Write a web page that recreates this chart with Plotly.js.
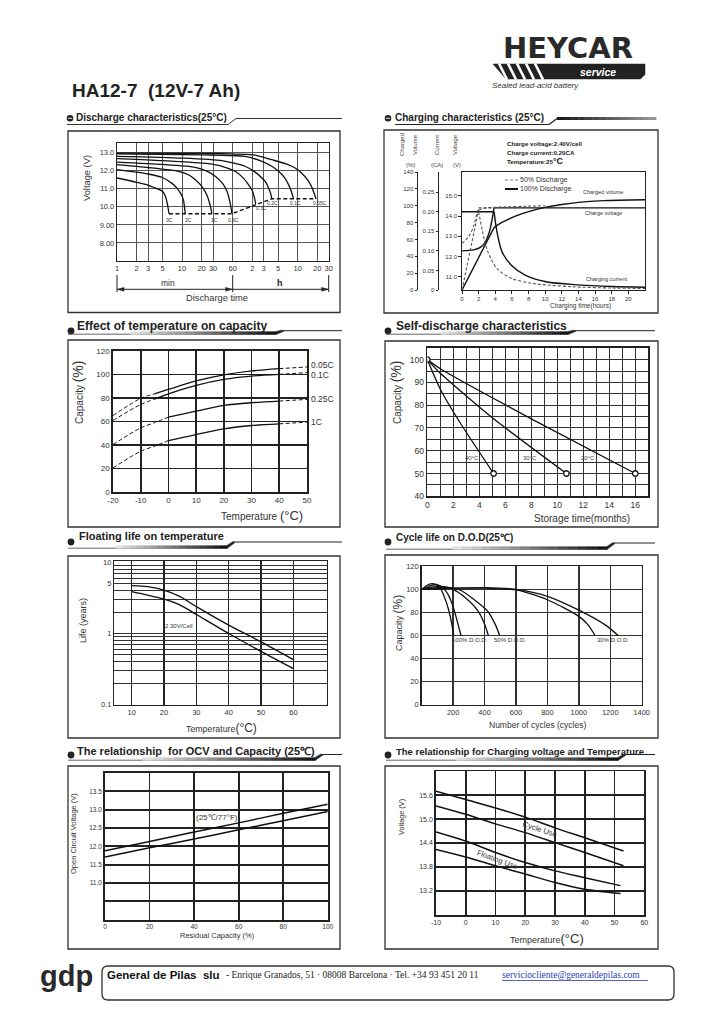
<!DOCTYPE html>
<html><head><meta charset="utf-8">
<script src="https://cdn.plot.ly/plotly-3.0.1.min.js"></script>
<style>html,body{margin:0;padding:0;background:#fff;}#chart{width:725px;height:1024px;}</style>
</head><body><div id="chart"></div>
<script>
// ================= DATA =================
// 1. Discharge characteristics (time in minutes, voltage V)
const dis3C_t=[1,2,3,4,5,5.6,6.0,6.3];
const dis3C_v=[11.6,11.36,11.2,11.02,10.86,10.55,10.1,9.62];
const dis2C_t=[1,2,3,4.9,7,8.35,10,10.6,11.2];
const dis2C_v=[12.06,11.92,11.82,11.64,11.3,11.04,10.6,10.31,9.62];
const dis1C_t=[1,3,8.9,13,16,20,24,27,28.8];
const dis1C_v=[12.34,12.18,11.97,11.75,11.5,11.15,10.67,10.1,9.62];
const dis06C_t=[1,5,16,25,32.4,42,49,55,58.5];
const dis06C_v=[12.48,12.35,12.19,11.95,11.69,11.3,10.86,10.2,9.62];
const dis03C_t=[1,10,28.8,50,65.6,90,105,120,130,136];
const dis03C_v=[12.67,12.5,12.37,12.15,11.97,11.55,11.23,10.9,10.5,10.15];
const dis02C_t=[1,10,41,93,130,169,195,214,230,240];
const dis02C_v=[12.8,12.7,12.56,12.25,11.95,11.6,11.35,11.04,10.75,10.45];
const dis01C_t=[1,20,93,169,240,305,380,434,480,518];
const dis01C_v=[12.94,12.88,12.8,12.52,12.25,11.97,11.6,11.23,10.85,10.45];
const dis005C_t=[1,30,133,240,400,548,700,880,1000,1100,1150];
const dis005C_v=[12.98,12.96,12.86,12.61,12.38,12.15,11.85,11.42,11.05,10.65,10.45];
const cutoff_t=[6.3,58.5,240,1150];
const cutoff_v=[9.62,9.62,10.45,10.45];
const disTickVals=[1,2,3,5,10,20,30,60,120,180,300,600,1200,1800];
const disTickText=['1','2','3','5','10','20','30','60','2','3','5','10','20','30'];
const disVTicks=[8,9,10,11,12,13];
const disVText=['8.00','9.00','10.0','11.0','12.0','13.0'];

// 2. Charging characteristics (hours)
const chgV100_t=[0,1.4,2.2,2.7,3.3,3.6,3.85,22];
const chgV100_v=[12.28,12.33,12.45,12.65,13.23,13.8,14.4,14.4];
const chgV50_t=[0,0.8,1.4,1.8,2.0,4.0];
const chgV50_v=[12.65,12.98,13.5,14.15,14.4,14.4];
const chgI100_t=[0,3.85,4.2,4.8,5.9,7.6,10.1,14,18,22];
const chgI100_a=[0.2,0.2,0.149,0.098,0.064,0.038,0.021,0.013,0.009,0.007];
const chgI50_t=[0,2.0,2.47,3.1,4.2,5.9,8.4,13.1,18,22];
const chgI50_a=[0.2,0.2,0.149,0.098,0.055,0.03,0.017,0.0085,0.005,0.004];
const chgC100_t=[0,3.85,4.6,5.6,6.5,8,10,12,14,17,22];
const chgC100_p=[0,74,79,84,88,93,98,101.5,104,106,107];
const chgC50_t=[0,1,2,3,5,8,10];
const chgC50_p=[0,48,95,97.5,98.5,99.5,100];
const chgTimeTicks=[0,2,4,6,8,10,12,14,16,18,20];
const chgVTicks=[11,12,13,14,15];
const chgVText=['11.0','12.0','13.0','14.0','15.0'];
const chgATicks=[0,0.05,0.1,0.15,0.2,0.25];
const chgAText=['0','0.05','0.10','0.15','0.20','0.25'];
const chgPTicks=[0,20,40,60,80,100,120,140];

// 3. Effect of temperature on capacity
const tempC=[-20,-10,-5,0,10,20,30,40,50];
const cap005=[65.1,79.7,83.5,87.3,94.5,99.6,103,105,106.4];
const cap01=[60.9,74.5,79,83.6,90.8,95.9,98.7,100.1,101.6];
const cap025=[40.4,54.6,59,63.7,68.8,73.7,76,77.4,78.8];
const cap1=[20.5,34.7,39,43.8,48.9,53.8,56.6,58,59.5];
const tempTicks=[-20,-10,0,10,20,30,40,50];
const tempTickText=['-20','-10','0','10','20','30','40','50'];

// 4. Self-discharge (months, %)
const sd40_t=[0,1,2.5,5.1];   const sd40_c=[100,87,72.5,50];
const sd30_t=[0,1,5,10.7];    const sd30_c=[100,94,74.5,50];
const sd20_t=[0,1,8,16];      const sd20_c=[100,96,74,50];
const sdMark_t=[0,5.1,10.7,16]; const sdMark_c=[100,50,50,50];

// 5. Floating life on temperature
const flTemp=[10,15,20,25,30,40,50,60];
const flUpper=[4.7,4.55,4.07,3.29,2.38,1.31,0.764,0.43];
const flLower=[3.87,3.46,3.04,2.51,1.85,1.0,0.56,0.32];

// 6. Cycle life on D.O.D
const cyc100a_n=[0,40,70,110,140,170,190,204]; const cyc100a_c=[100,104,105,103,95,83,71,60];
const cyc100b_n=[0,50,90,130,170,200,225,250]; const cyc100b_c=[100,103,104,102,95,85,73,60];
const cyc50a_n=[0,60,130,200,280,360,400,424];  const cyc50a_c=[100,102,102.5,100,92.5,81,70,60];
const cyc50b_n=[0,100,180,250,320,420,470,496]; const cyc50b_c=[100,101.5,101.5,99,92.5,81,69,60];
const cyc30a_n=[0,200,400,600,800,1000,1060,1103]; const cyc30a_c=[100,101,101,99.5,91,76.6,69,60];
const cyc30b_n=[0,200,400,600,800,1000,1170,1250]; const cyc30b_c=[100,101,101.5,100,94,82,69,60];

// 7. OCV vs capacity
const ocvCap=[0,20,40,60,80,100];
const ocvUpper=[11.88,12.13,12.39,12.64,12.9,13.15];
const ocvLower=[11.71,11.96,12.2,12.45,12.7,12.95];

// 8. Charging voltage vs temperature
const cvTemp=[-10,0,10,20,30,40,53];
const cycUseUp=[15.7,15.49,15.28,15.05,14.78,14.53,14.2];
const cycUseLo=[15.33,15.12,14.88,14.66,14.41,14.16,13.83];
const fltTemp=[-10,0,10,20,30,40,52];
const fltUseUp=[14.68,14.45,14.16,13.91,13.7,13.53,13.33];
const fltUseLo=[14.24,14.05,13.83,13.62,13.41,13.24,13.13];

// ================= HELPERS =================
const W=725,H=1024;
const F='Liberation Sans, Arial, Helvetica, sans-serif';
const FS='Liberation Serif, Times New Roman, serif';
const X=p=>p/W, Y=p=>1-p/H;
const dom=(a,b)=>[X(a),X(b)];
const domY=(top,bot)=>[Y(bot),Y(top)];

function ln(x,y,xa,ya,o){
  return {type:'scatter',mode:'lines',x:x,y:y,xaxis:xa,yaxis:ya,hoverinfo:'skip',
    line:Object.assign({color:'#111',width:1.4,shape:'spline',smoothing:0.8},o||{})};
}
function axis(o){
  return Object.assign({showline:true,linecolor:'#222',linewidth:1.2,mirror:true,ticks:'',
    showgrid:true,gridcolor:'#333',gridwidth:1,zeroline:false,fixedrange:true,automargin:false,
    tickmode:'array',tickfont:{family:F,size:7.5,color:'#333'}},o);
}
const ann=[];
function A(text,x,y,size,o){
  o=o||{};
  ann.push({xref:'paper',yref:'paper',x:X(x),y:Y(y),text:text,showarrow:false,
    xanchor:o.xa||'center',yanchor:'middle',textangle:o.ang||0,borderpad:0,
    font:{family:o.fam||F,size:size,color:o.col||'#222'}});
}
const shapes=[];
function line(x0,y0,x1,y1,c,w,d){shapes.push({type:'line',xref:'paper',yref:'paper',x0:X(x0),y0:Y(y0),x1:X(x1),y1:Y(y1),line:{color:c||'#222',width:w||1,dash:d||'solid'}});}
function rect(x0,y0,x1,y1,fill,c,w){shapes.push({type:'rect',xref:'paper',yref:'paper',x0:X(x0),y0:Y(y1),x1:X(x1),y1:Y(y0),fillcolor:fill||'rgba(0,0,0,0)',line:{color:c||'#222',width:(w===undefined?1:w)}});}
function poly(pts,fill){shapes.push({type:'path',xref:'paper',yref:'paper',path:'M'+pts.map(p=>X(p[0]).toFixed(5)+','+Y(p[1]).toFixed(5)).join('L')+'Z',fillcolor:fill,line:{color:fill,width:0.5}});}
function circ(cx,cy,r,fill){shapes.push({type:'circle',xref:'paper',yref:'paper',x0:X(cx-r),x1:X(cx+r),y0:Y(cy+r),y1:Y(cy-r),fillcolor:fill,line:{width:0}});}
function grad(x0,x1,yc,h,g0,g1,n){
  for(let i=0;i<n;i++){
    const a=x0+(x1-x0)*i/n,b=x0+(x1-x0)*(i+1)/n;
    const g=Math.round(g0+(g1-g0)*i/(n-1));
    shapes.push({type:'rect',xref:'paper',yref:'paper',x0:X(a),x1:X(b+0.4),y0:Y(yc+h/2),y1:Y(yc-h/2),fillcolor:'rgb('+g+','+g+','+g+')',line:{width:0}});
  }
}
function hdr(bx,by,x0,xe,yb,yt,xr){
  circ(bx,by,3.4,'#222');
  line(x0,yb+1.2,xe,yb+1.2,'#666',1);
  grad(x0+(xe-x0)*0.3,xe,yb,3.2,225,20,16);
  poly([[xe,yb+1.6],[xe,yb-1.6],[xe+6,yt-0.6],[xe+8,yt+0.6]],'#222');
  line(xe+7,yt,xr,yt,'#222',1);
}

// ================= PAGE DECOR =================
A('<b>HA12-7\u00a0 (12V-7 Ah)</b>',71,90,19,{xa:'left'});
A('<b>HEYCAR</b>',568,48,29,{fam:'DejaVu Sans, '+F,col:'#2a2a2a'});
poly([[493,64],[645,64],[645,74.5],[640.5,79],[506,79]],'#222');
for(let k=0;k<5;k++){ line(499+k*9,63.5,507+k*9,79.5,'#fff',2.6); }
A('<b><i>service</i></b>',598,72,10.5,{col:'#fff'});
A('<i>Sealed lead-acid battery</i>',491,85.5,8,{xa:'left',col:'#333'});

// panel boxes
rect(68,131,340,312.5,null,'#333',1.3);
rect(384,130,658,313,null,'#333',1.3);
rect(68,340,340,527,null,'#333',1.3);
rect(385,341,658,527,null,'#333',1.3);
rect(68,556,340,738,null,'#333',1.3);
rect(385,555,658,738,null,'#333',1.3);
rect(68,766,340,949,null,'#333',1.3);
rect(385,766,658,949,null,'#333',1.3);

// panel headers
circ(70,118.3,3.3,'#222'); line(67.8,118.3,72.2,118.3,'#fff',0.9);
line(67,124.5,228,124.5,'#333',1); line(228,124.5,236,118.5,'#333',1); line(236,118.5,342,118.5,'#333',1);
A('<b>Discharge characteristics(25°C)</b>',75,117.5,10,{xa:'left'});

circ(388,118.3,3.3,'#222'); line(385.8,118.3,390.2,118.3,'#fff',0.9);
line(395,124.5,549,124.5,'#222',1); line(549,124.5,557,118.5,'#222',1.3);
grad(557,656,118.5,3,25,150,14);
A('<b>Charging characteristics (25°C)</b>',394,117.5,10,{xa:'left'});

hdr(71,331,68,276,333,330.7,342);
A('<b>Effect of temperature on capacity</b>',76,326,12,{xa:'left'});
hdr(388,331,386,568,333,330.7,655);
A('<b>Self-discharge characteristics</b>',395,326,12,{xa:'left'});
hdr(71,542,68,227,547,542,342);
A('<b>Floating life on temperature</b>',78,536,11,{xa:'left'});
hdr(388,542,386,607,548,543,655);
A('<b>Cycle life on D.O.D(25℃)</b>',395,537,10,{xa:'left'});
hdr(71,755,68,315,759,754.5,342);
A('<b>The relationship\u00a0 for OCV and Capacity (25℃)</b>',76,751,11,{xa:'left'});
hdr(388,755,386,618,759,754.5,655);
A('<b>The relationship for Charging voltage and Temperature</b>',395,751,9.5,{xa:'left'});

// ---- panel 1 texts/arrows
A('Voltage (V)',87,178,9.3,{ang:-90,col:'#333'});
line(117,275,117,292,'#222',1); line(232.7,275,232.7,292,'#222',1); line(328.7,275,328.7,292,'#222',1);
line(117,289.3,328.7,289.3,'#222',1);
poly([[117.5,289.3],[124,287.4],[124,291.2]],'#222');
poly([[232.2,289.3],[225.7,287.4],[225.7,291.2]],'#222');
poly([[328.2,289.3],[321.7,287.4],[321.7,291.2]],'#222');
A('min',168,283,8.5,{col:'#333'});
A('<b>h</b>',280,283,9);
A('Discharge time',217,298,9.3,{col:'#333'});
[['3C',169,220],['2C',189,220],['1C',214,220],['0.6C',233.3,219.5],['0.3C',261,208.3],['0.2C',272.3,202.7],['0.1C',295,202.7],['0.05C',320,202.7]]
  .forEach(l=>A(l[0],l[1],l[2],5,{col:'#333'}));

// ---- panel 2 texts
A('Charged',402,145,6,{ang:-90,col:'#444'});
A('Volume',415,145,6,{ang:-90,col:'#444'});
A('Current',437,145,6,{ang:-90,col:'#444'});
A('Voltage',455,145,6,{ang:-90,col:'#444'});
A('(%)',410,165,6,{col:'#444'}); A('(CA)',437,165,6,{col:'#444'}); A('(V)',457,165,6,{col:'#444'});
A('<b>Charge voltage:2.40V/cell</b>',506,143,6.2,{xa:'left'});
A('<b>Charge current:0.20CA</b>',506,152,6.2,{xa:'left'});
A('<b>Temperature:25<span style="font-size:9px">°C</span></b>',506,161,6.2,{xa:'left'});
line(505,180,518,180,'#777',1,'3px,2px'); line(505,189,518,189,'#111',2);
A('50% Discharge',519,179.5,7,{xa:'left',col:'#333'});
A('100% Discharge',519,188.5,7,{xa:'left',col:'#333'});
A('Charged volume',582,192,5.5,{xa:'left',col:'#333'});
A('Charge voltage',584,212.5,5.5,{xa:'left',col:'#333'});
A('Charging current',585,279,5.5,{xa:'left',col:'#333'});
A('Charging time(hours)',580,306,6.5,{col:'#333'});

// ---- panel 3 texts
A('Capacity <span style="font-size:14px">(%)</span>',78,393,10,{ang:-90,col:'#333'});
A('Temperature <span style="font-size:13px">(°C)</span>',262,515,10,{col:'#333'});
A('0.05C',310,365.3,8.5,{xa:'left',col:'#333'});
A('0.1C',310,375.3,8.5,{xa:'left',col:'#333'});
A('0.25C',310,398.7,8.5,{xa:'left',col:'#333'});
A('1C',310,422,8.5,{xa:'left',col:'#333'});

// ---- panel 4 texts
A('Capacity <span style="font-size:14px">(%)</span>',396,393,10,{ang:-90,col:'#333'});
A('Storage time(months)',582,518,10,{col:'#333'});
A('40°C',471.7,458,6,{col:'#444'}); A('30°C',530,458,6,{col:'#444'}); A('20°C',587.7,458,6,{col:'#444'});

// ---- panel 5 texts
A('Life (years)',83,621,9,{ang:-90,col:'#333'});
A('Temperature<span style="font-size:12px">(°C)</span>',222,728,8.8,{col:'#333'});
A('2.30V/Cell',164,626.3,6,{xa:'left',col:'#333'});

// ---- panel 6 texts
A('Capacity <span style="font-size:12px">(%)</span>',398,623,9,{ang:-90,col:'#333'});
A('Number of cycles (cycles)',537,725,8.5,{col:'#333'});
A('100% D.O.D.',450.5,640,6,{xa:'left',col:'#333'});
A('50% D.O.D.',492.5,640,6,{xa:'left',col:'#333'});
A('30% D.O.D.',595.5,640,6,{xa:'left',col:'#333'});

// ---- panel 7 texts
A('Open Circuit Voltage (V)',73,834,7.5,{ang:-90,col:'#333'});
A('Residual Capacity (%)',217,935,7.5,{col:'#333'});
A('(25℃/77°F)',217,817,8,{col:'#333'});

// ---- panel 8 texts
A('Voltage (V)',401,817,7.3,{ang:-90,col:'#333'});
A('Temperature<span style="font-size:13px">(°C)</span>',547,938,9,{col:'#333'});
A('Cycle Use',540,829.5,7.8,{ang:18,col:'#333'});
A('Floating Use',497,859.5,7.6,{ang:20,col:'#333'});

// ---- footer
A('<b>gdp</b>',39,976,29,{xa:'left',col:'#2a2a2a'});
(function(){
  const x0=102,x1=674,y0=966,y1=1000,r=6;
  const p=[['M',x0+r,y0],['L',x1-r,y0],['Q',x1,y0,x1,y0+r],['L',x1,y1-r],['Q',x1,y1,x1-r,y1],['L',x0+r,y1],['Q',x0,y1,x0,y1-r],['L',x0,y0+r],['Q',x0,y0,x0+r,y0]];
  const path=p.map(s=>{let t=s[0];for(let i=1;i<s.length;i+=2){t+=X(s[i]).toFixed(5)+','+Y(s[i+1]).toFixed(5)+' ';}return t;}).join(' ')+' Z';
  shapes.push({type:'path',xref:'paper',yref:'paper',path:path,line:{color:'#333',width:1.3},fillcolor:'rgba(0,0,0,0)'});
})();
A('<b>General de Pilas\u00a0 slu</b>',106,974.5,11.5,{xa:'left',col:'#111'});
A('- Enrique Granados, 51 · 08008 Barcelona · Tel. +34 93 451 20 11',225,975,9.5,{xa:'left',fam:FS,col:'#222'});
A('serviciocliente@generaldepilas.com',501,975,9.5,{xa:'left',fam:FS,col:'#2b3fae'});
line(502,980.5,648,980.5,'#2b3fae',0.8);

// ================= TRACES =================
const tr=[];
[[dis3C_t,dis3C_v],[dis2C_t,dis2C_v],[dis1C_t,dis1C_v],[dis06C_t,dis06C_v],[dis03C_t,dis03C_v],[dis02C_t,dis02C_v],[dis01C_t,dis01C_v],[dis005C_t,dis005C_v]]
  .forEach(c=>tr.push(ln(c[0],c[1],'x','y',{width:1.3,smoothing:0.6})));
tr.push(ln(cutoff_t,cutoff_v,'x','y',{shape:'linear',dash:'4px,2.5px',width:1.4}));
const dsh={color:'#555',width:1.1,dash:'3px,2px'};
tr.push(ln(chgV100_t.slice(0,7),chgV100_v.slice(0,7),'x2','y2',{width:1.4}));
tr.push(ln(chgV100_t.slice(6),chgV100_v.slice(6),'x2','y2',{shape:'linear',width:1.4}));
tr.push(ln(chgV50_t.slice(0,5),chgV50_v.slice(0,5),'x2','y2',dsh));
tr.push(ln(chgV50_t.slice(4),chgV50_v.slice(4),'x2','y2',Object.assign({},dsh,{shape:'linear'})));
tr.push(ln(chgI100_t.slice(0,2),chgI100_a.slice(0,2),'x2','y3',{shape:'linear'}));
tr.push(ln(chgI100_t.slice(1),chgI100_a.slice(1),'x2','y3',{}));
tr.push(ln(chgI50_t.slice(1),chgI50_a.slice(1),'x2','y3',dsh));
tr.push(ln(chgC100_t.slice(0,2),chgC100_p.slice(0,2),'x2','y4',{shape:'linear'}));
tr.push(ln(chgC100_t.slice(1),chgC100_p.slice(1),'x2','y4',{}));
tr.push(ln(chgC50_t.slice(0,3),chgC50_p.slice(0,3),'x2','y4',Object.assign({},dsh,{shape:'linear'})));
tr.push(ln(chgC50_t.slice(2),chgC50_p.slice(2),'x2','y4',dsh));
[[cap005,2],[cap01,2],[cap025,3],[cap1,3]].forEach(c=>{
  const v=c[0],s=c[1];
  tr.push(ln(tempC.slice(s,8),v.slice(s,8),'x3','y5',{width:1.3}));
  tr.push(ln(tempC.slice(0,s+1),v.slice(0,s+1),'x3','y5',{width:1,dash:'4px,2.5px'}));
  tr.push(ln(tempC.slice(7),v.slice(7),'x3','y5',{width:1,dash:'4px,2.5px'}));
});
[[sd40_t,sd40_c],[sd30_t,sd30_c],[sd20_t,sd20_c]].forEach(c=>tr.push(ln(c[0],c[1],'x4','y6',{width:1.3,smoothing:0.6})));
tr.push({type:'scatter',mode:'markers',x:sdMark_t,y:sdMark_c,xaxis:'x4',yaxis:'y6',hoverinfo:'skip',
  marker:{symbol:'circle',size:5.5,color:'#fff',line:{color:'#111',width:1.3}}});
tr.push(ln(flTemp,flUpper,'x5','y7',{width:1.4}));
tr.push(ln(flTemp,flLower,'x5','y7',{width:1.4}));
[[cyc100a_n,cyc100a_c],[cyc100b_n,cyc100b_c],[cyc50a_n,cyc50a_c],[cyc50b_n,cyc50b_c],[cyc30a_n,cyc30a_c],[cyc30b_n,cyc30b_c]]
  .forEach(c=>tr.push(ln(c[0],c[1],'x6','y8',{width:1.3,smoothing:0.7})));
tr.push(ln(ocvCap,ocvUpper,'x7','y9',{width:1.5}));
tr.push(ln(ocvCap,ocvLower,'x7','y9',{width:1.5}));
tr.push(ln(cvTemp,cycUseUp,'x8','y10',{width:1.5}));
tr.push(ln(cvTemp,cycUseLo,'x8','y10',{width:1.5}));
tr.push(ln(fltTemp,fltUseUp,'x8','y10',{width:1.5}));
tr.push(ln(fltTemp,fltUseLo,'x8','y10',{width:1.5}));

// ================= AXES =================
const sdXTicks=[]; const sdXText=[];
for(let m=0;m<=17;m++){sdXTicks.push(m);sdXText.push(m%2===0&&m<=16?String(m):'');}
const sdYTicks=[]; const sdYText=[];
for(let v=40;v<=105;v+=5){sdYTicks.push(v);sdYText.push(v%10===0&&v<=100?String(v):'');}
const flYTicks=[]; const flYText=[];
[0.1,1].forEach(d=>{for(let k=1;k<=9;k++){const v=+(d*k).toFixed(2);flYTicks.push(v);flYText.push(v===0.1?'0.1':v===1?'1':v===5?'5':'');}});
flYTicks.push(10); flYText.push('10');

const layout={
  width:W,height:H,margin:{l:0,r:0,t:0,b:0,pad:0},paper_bgcolor:'#fff',plot_bgcolor:'#fff',
  showlegend:false,font:{family:F,color:'#222'},annotations:ann,shapes:shapes,
  xaxis:axis({type:'log',domain:dom(117,328.7),range:[0,Math.log10(1800)],anchor:'y',tickvals:disTickVals,ticktext:disTickText,gridcolor:'#555'}),
  yaxis:axis({domain:domY(143.3,261),range:[7,13.52],anchor:'x',tickvals:disVTicks,ticktext:disVText,gridcolor:'#555'}),
  xaxis2:axis({domain:dom(462,645),range:[0,22],anchor:'y2',tickvals:chgTimeTicks,showgrid:false,ticks:'outside',ticklen:2.5,tickcolor:'#222',linewidth:1.3,tickfont:{family:F,size:6,color:'#333'}}),
  yaxis2:axis({domain:domY(172,290),range:[10.35,16.17],anchor:'x2',tickvals:chgVTicks,ticktext:chgVText,showgrid:false,ticks:'outside',ticklen:2.5,tickcolor:'#222',linewidth:1.3,tickfont:{family:F,size:6,color:'#333'}}),
  yaxis3:axis({overlaying:'y2',anchor:'free',position:X(438),side:'left',range:[0,0.3014],tickvals:chgATicks,ticktext:chgAText,mirror:false,showgrid:false,ticks:'outside',ticklen:2.5,tickcolor:'#222',linewidth:1.3,tickfont:{family:F,size:6,color:'#333'}}),
  yaxis4:axis({overlaying:'y2',anchor:'free',position:X(417),side:'left',range:[0,140],tickvals:chgPTicks,mirror:false,showgrid:false,ticks:'outside',ticklen:2.5,tickcolor:'#222',linewidth:1.3,tickfont:{family:F,size:6,color:'#333'}}),
  xaxis3:axis({domain:dom(113,307),range:[-20,50],anchor:'y5',tickvals:tempTicks,ticktext:tempTickText,gridcolor:'#222',gridwidth:1.8,linewidth:1.8,tickfont:{family:F,size:8,color:'#333'}}),
  yaxis5:axis({domain:domY(351,492),range:[0,120],anchor:'x3',tickvals:[0,20,40,60,80,100,120],gridcolor:'#222',gridwidth:1.8,linewidth:1.8,tickfont:{family:F,size:8,color:'#333'}}),
  xaxis4:axis({domain:dom(427.3,648.3),range:[0,17],anchor:'y6',tickvals:sdXTicks,ticktext:sdXText,gridcolor:'#333',gridwidth:1,linewidth:1.6,tickfont:{family:F,size:8.5,color:'#333'}}),
  yaxis6:axis({domain:domY(348,496.3),range:[40,105.1],anchor:'x4',tickvals:sdYTicks,ticktext:sdYText,gridcolor:'#333',gridwidth:1,linewidth:1.6,tickfont:{family:F,size:8.5,color:'#333'}}),
  xaxis5:axis({domain:dom(114.3,326.7),range:[4.64,70.3],anchor:'y7',tickvals:[10,20,30,40,50,60],gridcolor:'#222',gridwidth:1.4,linewidth:1.4,tickfont:{family:F,size:7.5,color:'#333'}}),
  yaxis7:axis({type:'log',domain:domY(561.3,704.7),range:[-1,1.014],anchor:'x5',tickvals:flYTicks,ticktext:flYText,gridcolor:'#333',gridwidth:1,linewidth:1.4,tickfont:{family:F,size:7.5,color:'#333'}}),
  xaxis6:axis({domain:dom(421.7,641.7),range:[0,1400],anchor:'y8',tickvals:[200,400,600,800,1000,1200,1400],gridcolor:'#333',gridwidth:1.5,linewidth:1.5,tickfont:{family:F,size:7.5,color:'#333'}}),
  yaxis8:axis({domain:domY(566.3,704.7),range:[0,120],anchor:'x6',tickvals:[0,20,40,60,80,100,120],gridcolor:'#333',gridwidth:1.5,linewidth:1.5,tickfont:{family:F,size:7.5,color:'#333'}}),
  xaxis7:axis({domain:dom(105,327.7),range:[0,100],anchor:'y9',tickvals:[0,20,40,60,80,100],gridcolor:'#222',gridwidth:1.8,linewidth:1.8,tickfont:{family:F,size:6.5,color:'#333'}}),
  yaxis9:axis({domain:domY(773,919.7),range:[10,14],anchor:'x7',tickvals:[10.5,11,11.5,12,12.5,13,13.5],ticktext:['','11.0','11.5','12.0','12.5','13.0','13.5'],gridcolor:'#222',gridwidth:1.8,linewidth:1.8,tickfont:{family:F,size:6.5,color:'#333'}}),
  xaxis8:axis({domain:dom(436,644.3),range:[-10,60],anchor:'y10',tickvals:[-10,0,10,20,30,40,50,60],ticktext:['-10','0','10','20','30','40','50','60'],gridcolor:'#222',gridwidth:1.8,linewidth:1.8,tickfont:{family:F,size:7,color:'#333'}}),
  yaxis10:axis({domain:domY(771.3,914.7),range:[12.6,16.2],anchor:'x8',tickvals:[13.2,13.8,14.4,15.0,15.6],ticktext:['13.2','13.8','14.4','15.0','15.6'],gridcolor:'#222',gridwidth:1.8,linewidth:1.8,tickfont:{family:F,size:7,color:'#333'}})
};
Plotly.newPlot('chart',tr,layout,{staticPlot:true,displayModeBar:false});
</script></body></html>
